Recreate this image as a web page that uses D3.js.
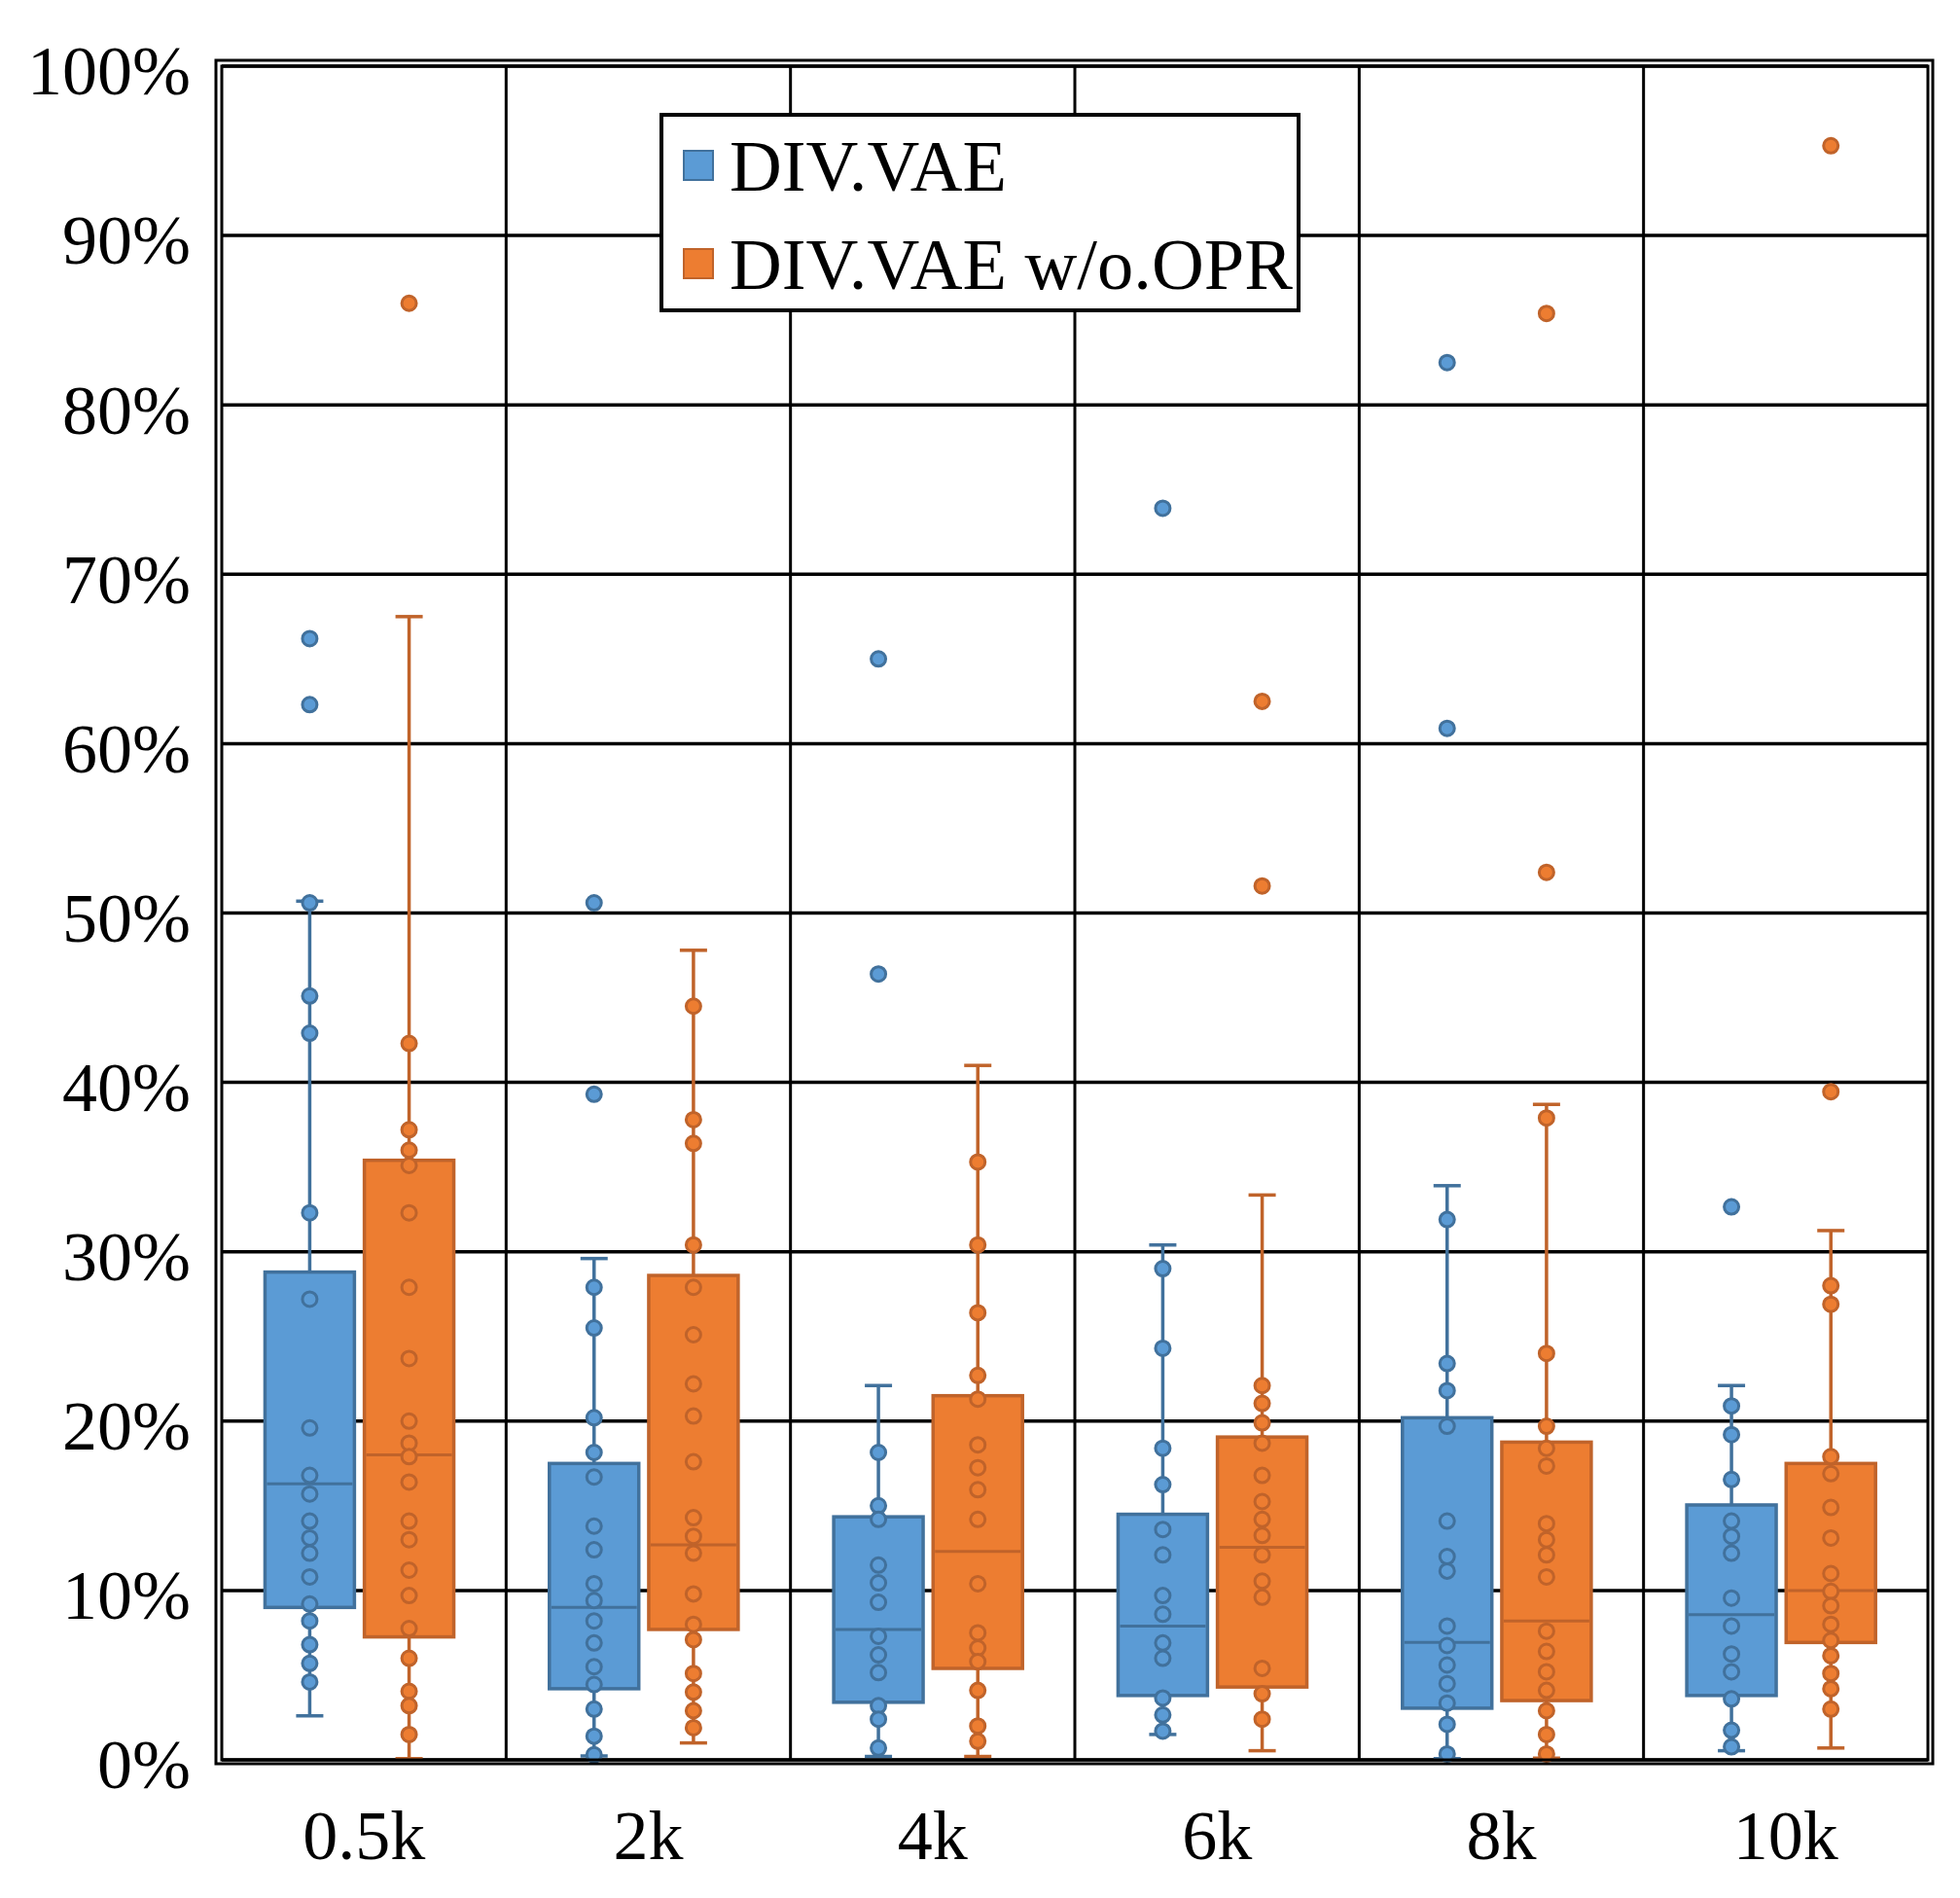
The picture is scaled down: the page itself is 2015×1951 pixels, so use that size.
<!DOCTYPE html>
<html>
<head>
<meta charset="utf-8">
<script src="https://cdn.jsdelivr.net/npm/d3@7"></script>
<style>
  body { margin: 0; background: #fff; }
  svg { display: block; }
  text { font-family: "Liberation Serif", "Times New Roman", serif; fill: #000; }
</style>
</head>
<body>
<div id="chart"></div>
<script>
// categories and series
const categories = ["0.5k", "2k", "4k", "6k", "8k", "10k"];
const seriesNames = ["DIV.VAE", "DIV.VAE w/o.OPR"];
const yTicks = [0, 0.1, 0.2, 0.3, 0.4, 0.5, 0.6, 0.7, 0.8, 0.9, 1.0];

// DIV.VAE box stats (percent)
const vaeLow    = [2.6, 0.23, 0.2, 1.5, 0.07, 0.54];
const vaeQ1     = [9.0, 4.2, 3.4, 3.8, 3.05, 3.8];
const vaeMedian = [16.3, 9.0, 7.7, 7.9, 6.93, 8.57];
const vaeQ3     = [28.8, 17.5, 14.35, 14.5, 20.2, 15.05];
const vaeHigh   = [50.7, 29.6, 22.1, 30.4, 33.9, 22.1];
const vaePoints = [
  [50.6, 45.1, 42.9, 32.3, 27.2, 19.6, 16.8, 15.7, 14.1, 13.1, 12.2, 10.8, 9.2, 8.2, 6.8, 5.7, 4.6],
  [27.9, 25.5, 20.2, 18.15, 16.7, 13.8, 12.4, 10.4, 9.4, 8.2, 6.9, 5.5, 4.45, 3.0, 1.4, 0.3],
  [18.15, 15.0, 14.2, 11.5, 10.45, 9.3, 7.3, 6.2, 5.15, 3.2, 2.4, 0.7],
  [29.0, 24.3, 18.4, 16.25, 13.6, 12.1, 9.7, 8.6, 6.9, 6.0, 3.65, 2.65, 1.7],
  [31.9, 23.4, 21.8, 19.7, 14.1, 12.0, 11.15, 7.9, 6.75, 5.6, 4.5, 3.35, 2.1, 0.35],
  [20.9, 19.2, 16.55, 14.1, 13.2, 12.2, 9.55, 7.9, 6.25, 5.2, 3.6, 1.75, 0.77]
];
const vaeOutliers = [[66.2, 62.3], [50.6, 39.3], [65.0, 46.4], [73.9], [82.5, 60.9], [32.65]];

// DIV.VAE w/o.OPR box stats (percent)
const oprLow    = [0.07, 1.0, 0.2, 0.54, 0.1, 0.7];
const oprQ1     = [7.26, 7.7, 5.4, 4.3, 3.5, 6.93];
const oprMedian = [18.0, 12.7, 12.3, 12.55, 8.2, 10.0];
const oprQ3     = [35.4, 28.6, 21.5, 19.06, 18.76, 17.5];
const oprHigh   = [67.5, 47.8, 41.0, 33.35, 38.7, 31.25];
const oprPoints = [
  [42.3, 37.2, 36.0, 35.1, 32.3, 27.9, 23.7, 20.0, 18.7, 17.9, 16.4, 14.1, 13.0, 11.2, 9.7, 7.75, 6.0, 4.05, 3.2, 1.5],
  [44.5, 37.8, 36.4, 30.4, 27.9, 25.1, 22.2, 20.3, 17.6, 14.3, 13.2, 12.2, 9.8, 8.0, 7.1, 5.1, 4.0, 2.9, 1.9],
  [35.3, 30.4, 26.4, 22.7, 21.3, 18.6, 17.25, 15.95, 14.2, 10.4, 7.5, 6.6, 5.8, 4.1, 2.0, 1.1],
  [22.1, 21.05, 19.9, 18.7, 16.8, 15.25, 14.2, 13.25, 12.1, 10.55, 9.6, 5.4, 3.9, 2.4],
  [37.9, 24.0, 19.7, 18.4, 17.35, 13.95, 13.0, 12.1, 10.8, 7.6, 6.4, 5.2, 4.1, 2.9, 1.5, 0.35],
  [28.0, 26.9, 17.9, 16.9, 14.9, 13.1, 11.0, 9.95, 9.1, 8.0, 7.05, 6.15, 5.1, 4.2, 3.0]
];
const oprOutliers = [[86.0], [], [], [62.5, 51.6], [85.4, 52.4], [95.3, 39.45]];

const fills   = ["#5b9bd5", "#ed7d31"];
const strokes = ["#41719c", "#c0632a"];

// build one record per box
function buildBoxes(s, low, q1, med, q3, high, pts, outl) {
  return categories.map((c, i) => ({
    series: s, cat: c,
    low: low[i] / 100, q1: q1[i] / 100, median: med[i] / 100, q3: q3[i] / 100, high: high[i] / 100,
    points: pts[i].concat(outl[i]).map(v => v / 100)
  }));
}
const boxes = buildBoxes(0, vaeLow, vaeQ1, vaeMedian, vaeQ3, vaeHigh, vaePoints, vaeOutliers)
  .concat(buildBoxes(1, oprLow, oprQ1, oprMedian, oprQ3, oprHigh, oprPoints, oprOutliers));

const width = 2015, height = 1951;
const plot = { left: 228, right: 1982, top: 68, bottom: 1809 };

const svg = d3.select("#chart").append("svg")
  .attr("width", width)
  .attr("height", height);

const x0 = d3.scaleBand().domain(categories).range([plot.left, plot.right]);
const x1 = d3.scaleBand().domain([0, 1])
  .range([x0.bandwidth() * 0.152, x0.bandwidth() * 0.816])
  .paddingInner(0.1);
const y = d3.scaleLinear().domain([0, 1]).range([plot.bottom, plot.top]);

// horizontal gridlines
svg.append("g").selectAll("line")
  .data(yTicks)
  .enter().append("line")
  .attr("x1", plot.left).attr("x2", plot.right)
  .attr("y1", d => y(d)).attr("y2", d => y(d))
  .attr("stroke", "#000")
  .attr("stroke-width", 3.5);

// vertical category separators
svg.append("g").selectAll("line")
  .data(categories.slice(1))
  .enter().append("line")
  .attr("x1", d => x0(d)).attr("x2", d => x0(d))
  .attr("y1", plot.top).attr("y2", plot.bottom)
  .attr("stroke", "#000")
  .attr("stroke-width", 3);

// y axis labels
const yAxis = svg.append("g")
  .attr("transform", `translate(${plot.left},0)`)
  .call(d3.axisLeft(y).tickValues(yTicks).tickFormat(d3.format(".0%")).tickSize(0).tickPadding(32));
yAxis.select(".domain").remove();
yAxis.selectAll("text")
  .attr("dy", "0.4em")
  .style("font-family", '"Liberation Serif", "Times New Roman", serif')
  .style("font-size", "72px");

// x axis labels
const xAxis = svg.append("g")
  .attr("transform", `translate(0,${plot.bottom})`)
  .call(d3.axisBottom(x0).tickSize(0));
xAxis.select(".domain").remove();
xAxis.selectAll("text")
  .attr("y", 102).attr("dy", 0)
  .style("font-family", '"Liberation Serif", "Times New Roman", serif')
  .style("font-size", "72px");

// boxes
const capW = 28;
const g = svg.append("g").selectAll("g")
  .data(boxes)
  .enter().append("g")
  .attr("transform", d => `translate(${x0(d.cat) + x1(d.series)},0)`);

const bw = x1.bandwidth();

g.append("line") // whisker
  .attr("x1", bw / 2).attr("x2", bw / 2)
  .attr("y1", d => y(d.low)).attr("y2", d => y(d.high))
  .attr("stroke", d => strokes[d.series])
  .attr("stroke-width", 3.5);

g.selectAll(".cap")
  .data(d => [d.low, d.high].map(v => ({ v: v, s: d.series })))
  .enter().append("line")
  .attr("class", "cap")
  .attr("x1", bw / 2 - capW / 2).attr("x2", bw / 2 + capW / 2)
  .attr("y1", d => y(d.v)).attr("y2", d => y(d.v))
  .attr("stroke", d => strokes[d.s])
  .attr("stroke-width", 3.5);

g.append("rect")
  .attr("x", 0).attr("width", bw)
  .attr("y", d => y(d.q3))
  .attr("height", d => y(d.q1) - y(d.q3))
  .attr("fill", d => fills[d.series])
  .attr("stroke", d => strokes[d.series])
  .attr("stroke-width", 3.5);

g.append("line") // median
  .attr("x1", 2).attr("x2", bw - 2)
  .attr("y1", d => y(d.median)).attr("y2", d => y(d.median))
  .attr("stroke", d => strokes[d.series])
  .attr("stroke-width", 3);

g.selectAll("circle")
  .data(d => d.points.map(v => ({ v: v, s: d.series })))
  .enter().append("circle")
  .attr("cx", bw / 2)
  .attr("cy", d => y(d.v))
  .attr("r", 7.5)
  .attr("fill", d => fills[d.s])
  .attr("stroke", d => strokes[d.s])
  .attr("stroke-width", 3);

// legend
const legend = svg.append("g").attr("transform", "translate(680,118)");
legend.append("rect")
  .attr("width", 655).attr("height", 201)
  .attr("fill", "#fff")
  .attr("stroke", "#000")
  .attr("stroke-width", 4);
const li = legend.selectAll(".item")
  .data(seriesNames)
  .enter().append("g")
  .attr("class", "item")
  .attr("transform", (d, i) => `translate(0,${i * 101})`);
li.append("rect")
  .attr("x", 23).attr("y", 37)
  .attr("width", 30).attr("height", 30)
  .attr("fill", (d, i) => fills[i])
  .attr("stroke", (d, i) => strokes[i])
  .attr("stroke-width", 2);
li.append("text")
  .attr("x", 70).attr("y", 78)
  .style("font-size", "74.5px")
  .text(d => d);

// double frame around plot area
svg.append("rect")
  .attr("x", plot.left).attr("y", plot.top)
  .attr("width", plot.right - plot.left).attr("height", plot.bottom - plot.top)
  .attr("fill", "none")
  .attr("stroke", "#000")
  .attr("stroke-width", 3);
svg.append("rect")
  .attr("x", plot.left - 6).attr("y", plot.top - 6)
  .attr("width", plot.right - plot.left + 11).attr("height", plot.bottom - plot.top + 10)
  .attr("fill", "none")
  .attr("stroke", "#000")
  .attr("stroke-width", 3);
</script>
</body>
</html>
